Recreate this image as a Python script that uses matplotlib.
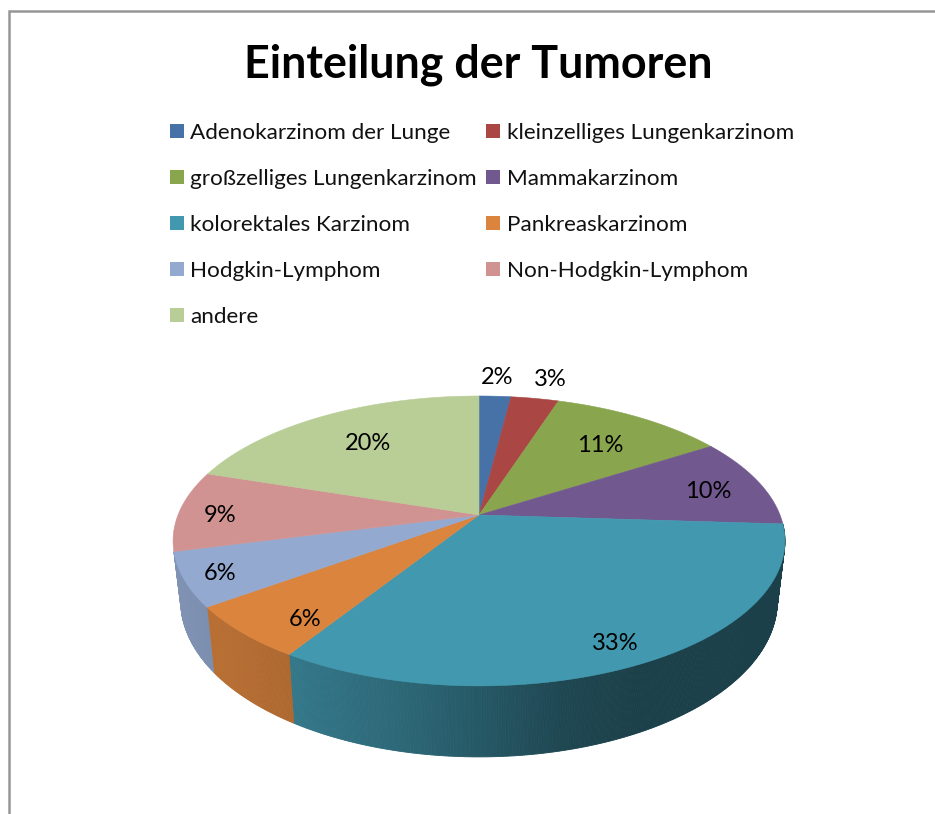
import numpy as np
import matplotlib
matplotlib.use('Agg')
import matplotlib.pyplot as plt
from matplotlib.patches import Polygon, Rectangle

plt.rcParams['font.family'] = ['Lato', 'DejaVu Sans']

title = 'Einteilung der Tumoren'
categories = ['Adenokarzinom der Lunge', 'kleinzelliges Lungenkarzinom',
              'großzelliges Lungenkarzinom', 'Mammakarzinom',
              'kolorektales Karzinom', 'Pankreaskarzinom',
              'Hodgkin-Lymphom', 'Non-Hodgkin-Lymphom', 'andere']
values = [2, 3, 11, 10, 33, 6, 6, 9, 20]
colors = ['#4672a8', '#aa4643', '#89a54e', '#71588f', '#4198af',
          '#db843d', '#93a9cf', '#d19392', '#b9cd96']

# where excel put the labels, in pixels
label_pos = [(497, 377), (550, 379), (600, 446), (708, 491), (615, 643),
             (305, 620), (220, 574), (220, 516), (368, 443)]

# only these slices show a side wall in the reference
wall_slices = [4, 5, 6]

# pie geometry, perspective view of a unit disc
cx, cy = 479, 515
a, b, k = 140.3, 301, 0.179


def top_point(theta):
    u, v = np.sin(theta), -np.cos(theta)
    d = 1 - k * v
    return cx + b * u / d, cy + a * v / d


def bottom_point(theta):
    x, y = top_point(theta)
    return cx + (x - cx) * 0.975, y + 65 + (y - 607) * 0.076


def side_shade(x):
    return np.interp(x, [170, 290, 400, 480, 560, 640, 790],
                     [0.87, 0.79, 0.68, 0.58, 0.47, 0.42, 0.42])


fig = plt.figure(figsize=(9.35, 8.14), dpi=100)
ax = fig.add_axes([0, 0, 1, 1])
ax.set_xlim(0, 935)
ax.set_ylim(814, 0)
ax.axis('off')

# chart border, open on the right and bottom of the crop
ax.plot([9, 9, 935], [814, 11, 11], color='#969696', lw=1.8, solid_joinstyle='miter')

ax.text(478, 65, title, fontsize=32.3, fontweight='bold', ha='center', va='center', color='black')

# legend
for i, name in enumerate(categories):
    row, col = i // 2, i % 2
    y = 131 + row * 46
    x = 170 if col == 0 else 486
    ax.add_patch(Rectangle((x, y - 7), 14, 14, facecolor=colors[i], edgecolor='none'))
    ax.text(x + 20 if col == 0 else x + 21, y + 2, name, fontsize=16.2, ha='left', va='center', color='#111111')

edges = np.cumsum([0] + values) / sum(values) * 2 * np.pi

# side wall first, the top face covers the back of it
for i in wall_slices:
    t = np.linspace(edges[i], edges[i + 1], int((edges[i + 1] - edges[i]) * 150) + 1)
    base = np.array(matplotlib.colors.to_rgb(colors[i]))
    for t0, t1 in zip(t[:-1], t[1:]):
        p = [top_point(t0), top_point(t1), bottom_point(t1), bottom_point(t0)]
        c = base * side_shade((p[0][0] + p[1][0]) / 2)
        ax.add_patch(Polygon(p, closed=True, facecolor=c, edgecolor=c, lw=0.6))

# top face
for i in range(len(values)):
    t = np.linspace(edges[i], edges[i + 1], 120)
    x, y = top_point(t)
    pts = [(cx, cy)] + list(zip(x, y))
    ax.add_patch(Polygon(pts, closed=True, facecolor=colors[i], edgecolor=colors[i], lw=0.4))

for v, (x, y) in zip(values, label_pos):
    ax.text(x, y, f'{v}%', fontsize=17, ha='center', va='center', color='black')

fig.savefig('out.png', dpi=100)
